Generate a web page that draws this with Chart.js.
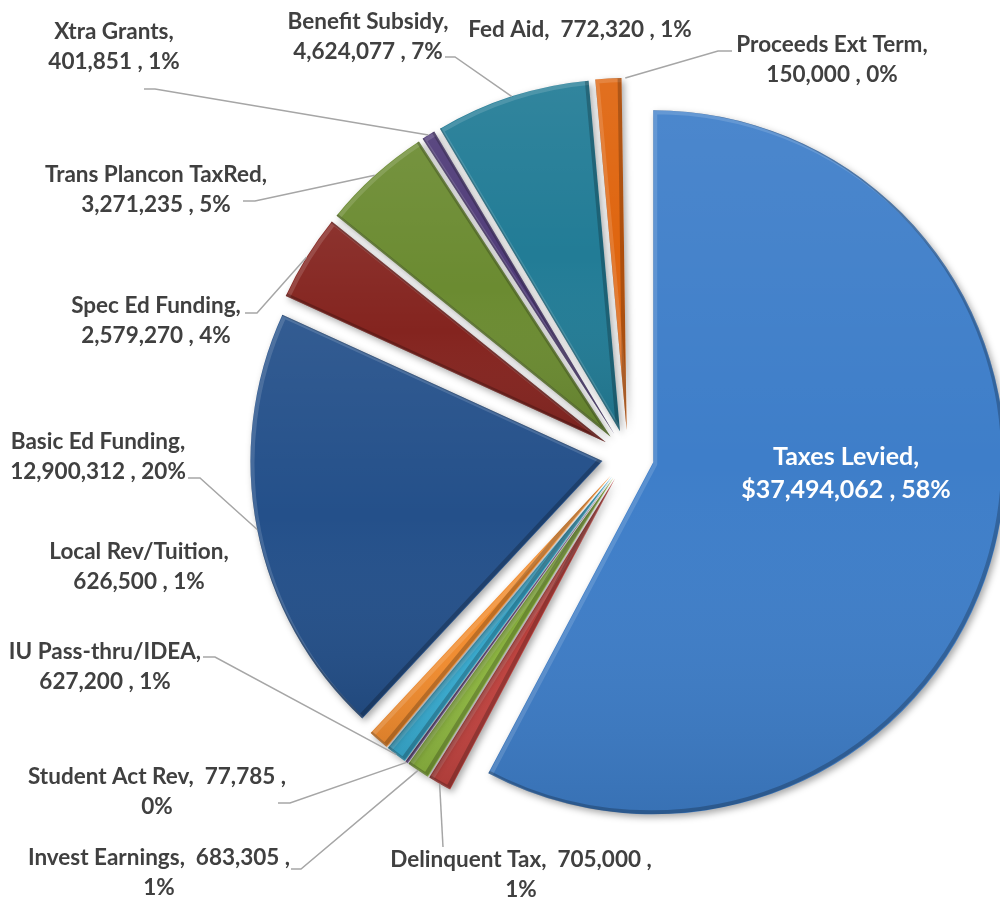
<!DOCTYPE html>
<html>
<head>
<meta charset="utf-8">
<title>Revenue Sources</title>
<script src="https://cdn.jsdelivr.net/npm/chart.js"></script>
<style>
  html, body { margin: 0; padding: 0; background: #fff; }
  #wrap { width: 1000px; height: 899px; position: relative; }
</style>
</head>
<body>
<div id="wrap"><canvas id="revenueChart"></canvas></div>
<script>
    const categories = ['Taxes Levied', 'Delinquent Tax', 'Invest Earnings', 'Student Act Rev', 'IU Pass-thru/IDEA',
        'Local Rev/Tuition', 'Basic Ed Funding', 'Spec Ed Funding', 'Trans Plancon TaxRed', 'Xtra Grants',
        'Benefit Subsidy', 'Fed Aid', 'Proceeds Ext Term'];
    const amounts = [37494062, 705000, 683305, 77785, 627200, 626500, 12900312, 2579270, 3271235, 401851, 4624077, 772320, 150000];

    // last slice has no fill, only its label shows
    const sliceColors = ['#3e7ec9', '#c0433f', '#8db640', '#7d5fa3', '#38abd0', '#f28c2e', '#24508a',
        '#84241f', '#6b8b31', '#4f3b78', '#227c96', '#df650f', 'rgba(255,255,255,0)'];

    // where each data label sits; leader = bend points from the label toward its slice
    const labelLayout = [
        { x: 846, y: 457, wrap: 'two', inside: true },
        { x: 521, y: 860, wrap: 'pct', leader: [[443, 847]] },
        { x: 159, y: 858, wrap: 'pct', leader: [[291, 869], [301, 869]] },
        { x: 157, y: 777, wrap: 'pct', leader: [[278, 803], [290, 803]] },
        { x: 105, y: 652, wrap: 'two', leader: [[203, 657], [215, 657]] },
        { x: 139, y: 552, wrap: 'two' },
        { x: 98, y: 442, wrap: 'two', leader: [[188, 478], [200, 478]] },
        { x: 156, y: 306, wrap: 'two', leader: [[245, 313], [257, 313]] },
        { x: 156, y: 175, wrap: 'two', leader: [[243, 201], [255, 201]] },
        { x: 114, y: 32, wrap: 'two', leader: [[144, 89], [155, 89]] },
        { x: 368, y: 22, wrap: 'two', leader: [[445, 57], [455, 57]] },
        { x: 580, y: 30, wrap: 'one' },
        { x: 832, y: 45, wrap: 'two', leader: [[732, 51], [718, 51]] }
    ];

    const EXPLODE = 26;
    const total = amounts.reduce((s, v) => s + v, 0);

    function slicePath(ctx, x, y, r, a0, a1) {
        ctx.beginPath();
        ctx.moveTo(x, y);
        ctx.arc(x, y, r, a0, a1);
        ctx.closePath();
    }

    function angleInside(t, a0, a1) {
        const TAU = Math.PI * 2;
        let d = (t - a0) % TAU;
        if (d < 0) d += TAU;
        return d <= a1 - a0;
    }

    function sliceBox(x, y, r, a0, a1) {
        const ys = [y, y + Math.sin(a0) * r, y + Math.sin(a1) * r];
        if (angleInside(-Math.PI / 2, a0, a1)) ys.push(y - r);
        if (angleInside(Math.PI / 2, a0, a1)) ys.push(y + r);
        return { top: Math.min(...ys), bottom: Math.max(...ys) };
    }

    function drawSlice(ctx, arc, i) {
        const { x, y, startAngle, endAngle, outerRadius } = arc.getProps(['x', 'y', 'startAngle', 'endAngle', 'outerRadius'], true);
        const mid = (startAngle + endAngle) / 2;
        ctx.save();
        ctx.translate(Math.cos(mid) * EXPLODE, Math.sin(mid) * EXPLODE);

        ctx.save();
        ctx.shadowColor = 'rgba(0,0,0,0.35)';
        ctx.shadowBlur = 7;
        ctx.shadowOffsetX = 2.5;
        ctx.shadowOffsetY = 3;
        arc.draw(ctx);
        ctx.restore();

        if (sliceColors[i].startsWith('#')) {
            // light-to-dark shading plus a soft bevel on the edges
            const box = sliceBox(x, y, outerRadius, startAngle, endAngle);
            ctx.save();
            slicePath(ctx, x, y, outerRadius, startAngle, endAngle);
            ctx.clip();
            const g = ctx.createLinearGradient(0, box.top, 0, box.bottom);
            g.addColorStop(0, 'rgba(255,255,255,0.07)');
            g.addColorStop(0.5, 'rgba(255,255,255,0)');
            g.addColorStop(1, 'rgba(0,0,0,0.10)');
            ctx.fillStyle = g;
            ctx.fillRect(x - outerRadius - 5, box.top - 5, outerRadius * 2 + 10, box.bottom - box.top + 10);
            ctx.lineJoin = 'round';
            ctx.lineWidth = 4;
            ctx.translate(2, 2);
            slicePath(ctx, x, y, outerRadius, startAngle, endAngle);
            ctx.strokeStyle = 'rgba(255,255,255,0.14)';
            ctx.stroke();
            ctx.translate(-4, -4);
            slicePath(ctx, x, y, outerRadius, startAngle, endAngle);
            ctx.strokeStyle = 'rgba(0,0,0,0.22)';
            ctx.stroke();
            ctx.restore();
        }

        ctx.restore();
    }

    const explodedPie = {
        id: 'explodedPie',
        beforeDatasetDraw(chart, args) {
            args.meta.data.forEach((arc, i) => drawSlice(chart.ctx, arc, i));
            return false;
        }
    };

    function labelLines(i) {
        const name = categories[i];
        const val = (i === 0 ? '$' : '') + amounts[i].toLocaleString('en-US');
        const pct = Math.round(amounts[i] / total * 100) + '%';
        const mode = labelLayout[i].wrap;
        if (mode === 'one') return [name + ',  ' + val + ' , ' + pct];
        if (mode === 'pct') return [name + ',  ' + val + ' ,', pct];
        return [name + ',', val + ' , ' + pct];
    }

    const sliceLabels = {
        id: 'sliceLabels',
        afterDatasetsDraw(chart) {
            const ctx = chart.ctx;
            const arcs = chart.getDatasetMeta(0).data;
            ctx.save();
            arcs.forEach((arc, i) => {
                const lay = labelLayout[i];
                if (!lay.leader) return;
                const { x, y, startAngle, endAngle, outerRadius } = arc.getProps(['x', 'y', 'startAngle', 'endAngle', 'outerRadius'], true);
                const mid = (startAngle + endAngle) / 2;
                const ax = x + Math.cos(mid) * (outerRadius + EXPLODE);
                const ay = y + Math.sin(mid) * (outerRadius + EXPLODE);
                ctx.beginPath();
                ctx.moveTo(lay.leader[0][0], lay.leader[0][1]);
                lay.leader.slice(1).forEach(p => ctx.lineTo(p[0], p[1]));
                ctx.lineTo(ax, ay);
                ctx.strokeStyle = '#a6a6a6';
                ctx.lineWidth = 1.5;
                ctx.stroke();
            });
            ctx.textAlign = 'center';
            ctx.textBaseline = 'middle';
            arcs.forEach((arc, i) => {
                const lay = labelLayout[i];
                const lines = labelLines(i);
                ctx.font = lay.inside ? 'bold 25px Lato' : 'bold 22.5px Lato';
                ctx.fillStyle = lay.inside ? '#ffffff' : '#404040';
                const lh = lay.inside ? 33 : 30;
                lines.forEach((t, k) => ctx.fillText(t, lay.x, lay.y + k * lh));
            });
            ctx.restore();
        }
    };

    new Chart(document.getElementById('revenueChart'), {
        type: 'pie',
        data: {
            labels: categories,
            datasets: [{
                data: amounts,
                backgroundColor: sliceColors,
                borderWidth: 0,
                radius: 352
            }]
        },
        options: {
            responsive: true,
            maintainAspectRatio: false,
            animation: false,
            events: [],
            layout: { padding: { left: 256, top: 13, right: 0, bottom: 0 } },
            plugins: {
                legend: { display: false },
                tooltip: { enabled: false }
            }
        },
        plugins: [explodedPie, sliceLabels]
    });
</script>
</body>
</html>
